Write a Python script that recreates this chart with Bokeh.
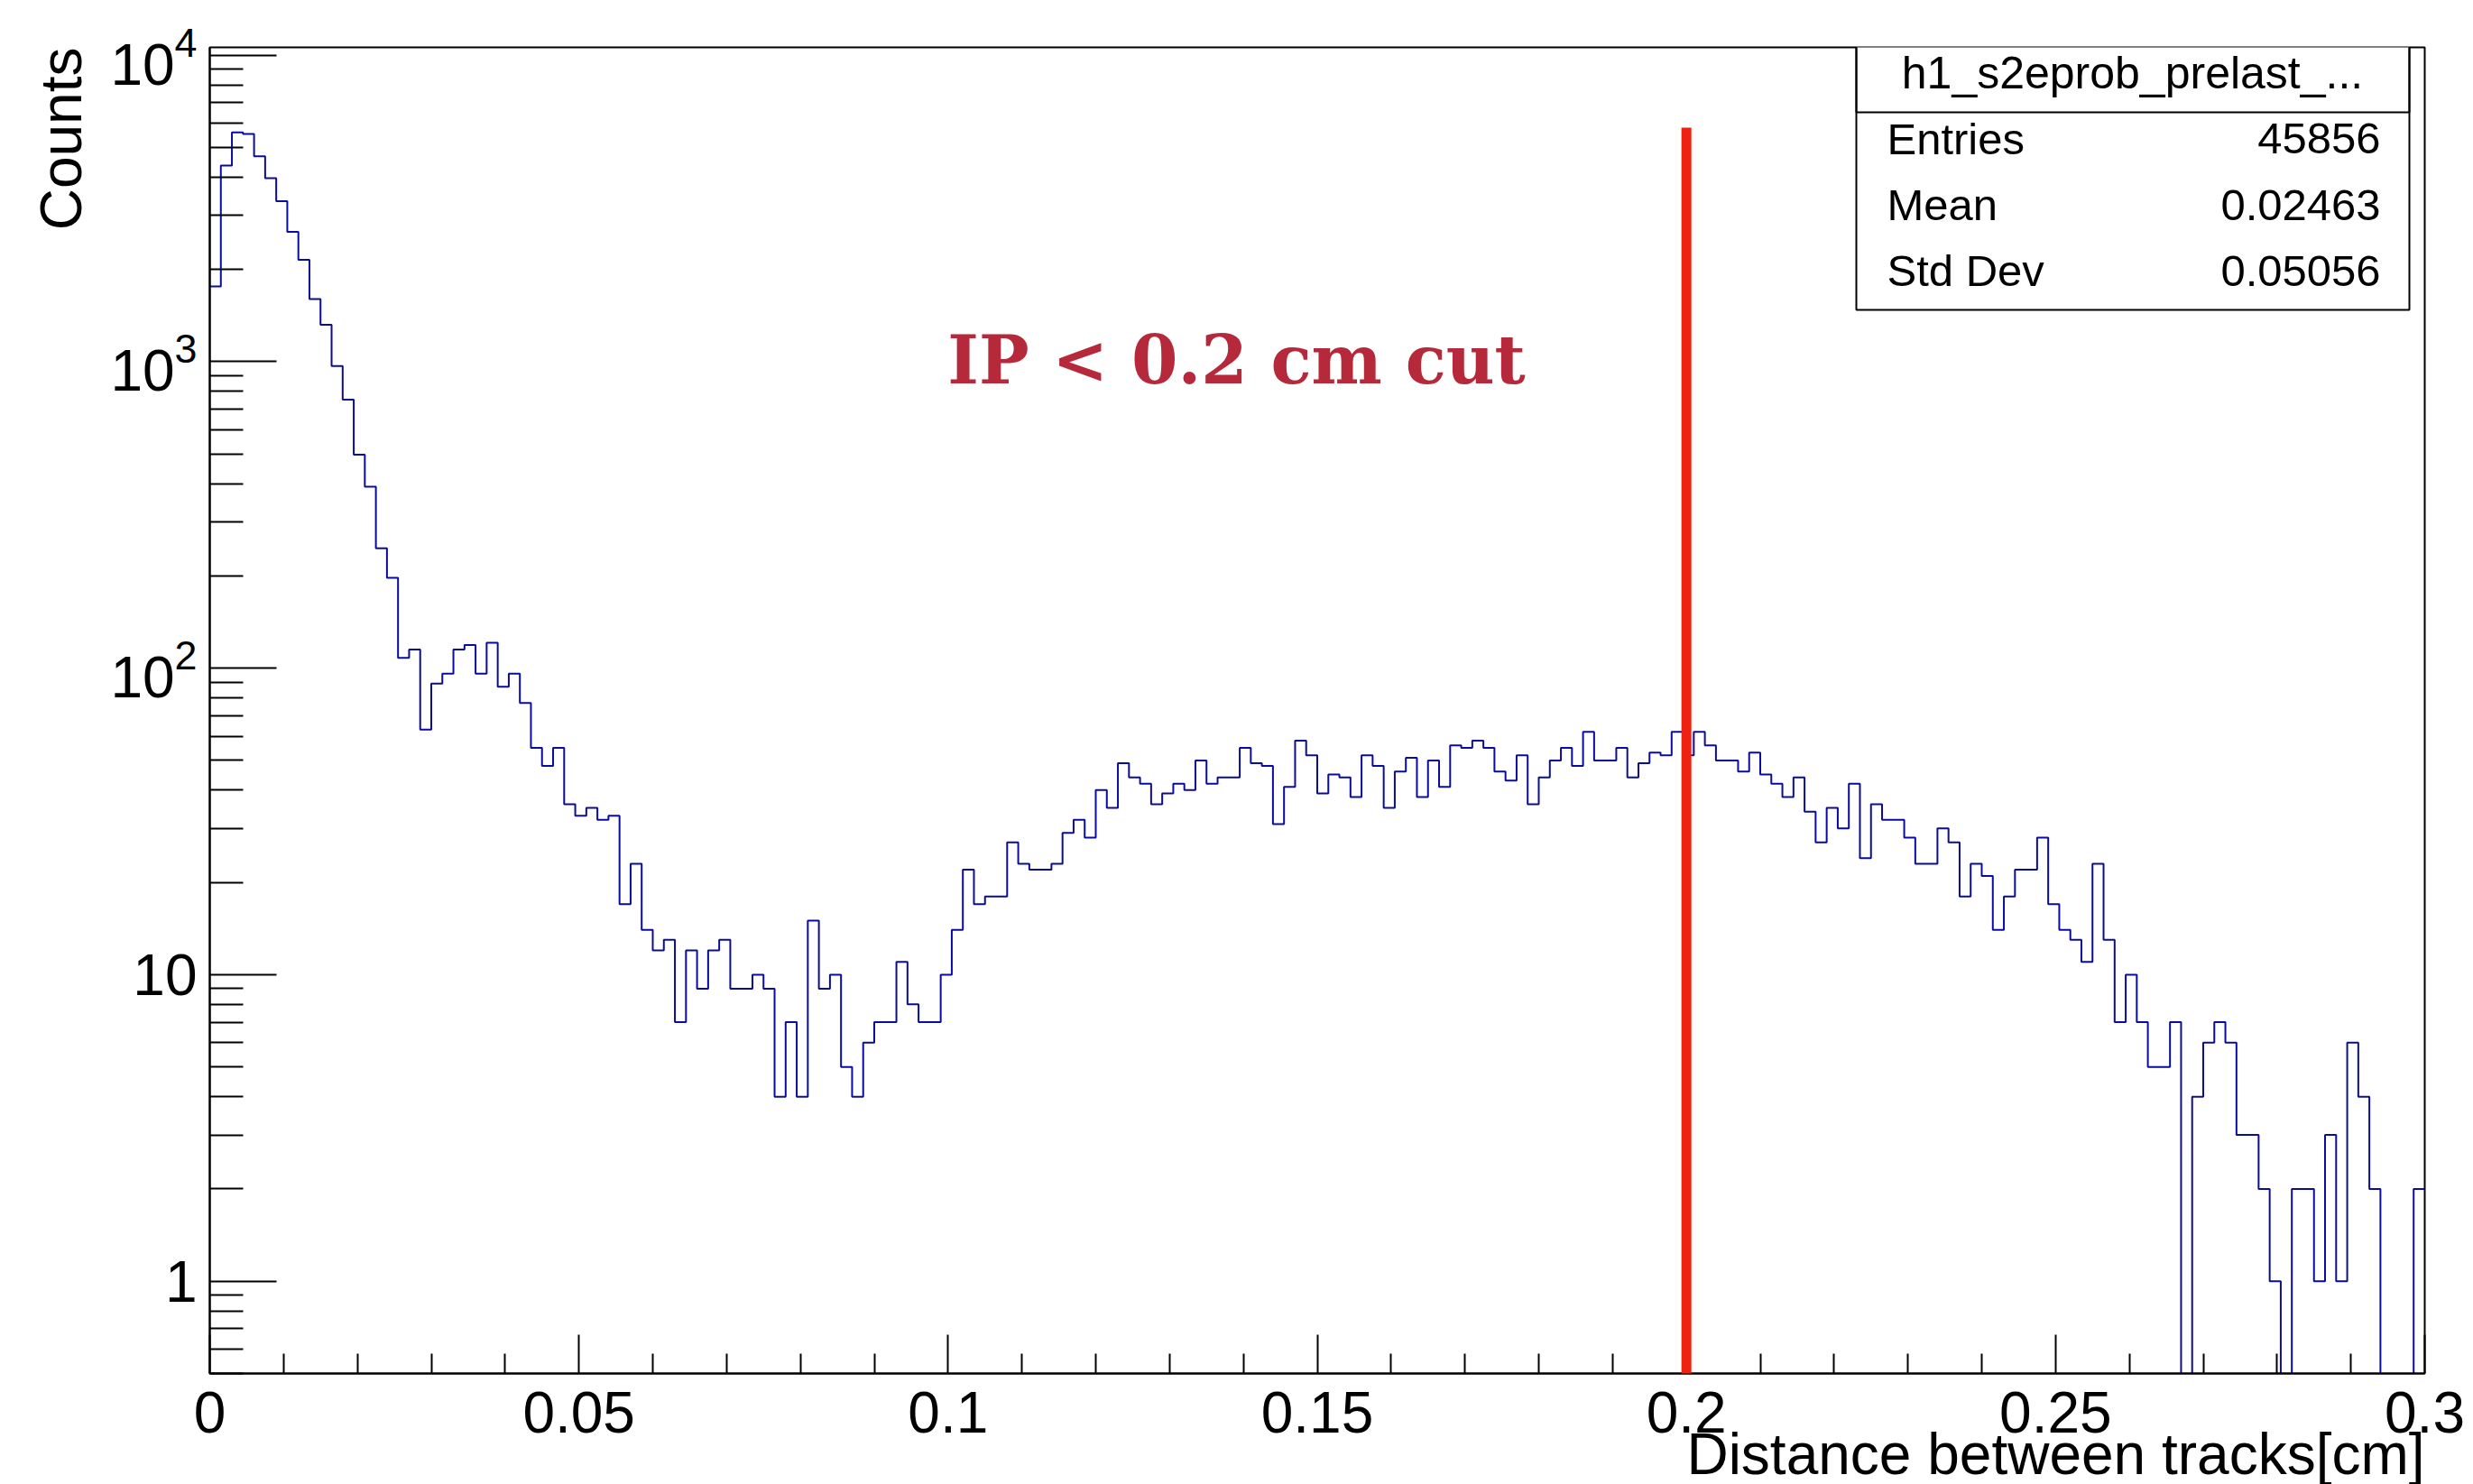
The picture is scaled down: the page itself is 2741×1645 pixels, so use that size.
import math

import numpy as np
from bokeh.embed import file_html
from bokeh.models import (Arrow, BoxAnnotation, CustomJSTickFormatter,
                          FixedTicker, Label, LogTickFormatter, Range1d, Title)
from bokeh.plotting import figure
from bokeh.resources import INLINE

# ---- histogram contents: 200 bins of 0.0015 cm between 0 and 0.3 cm ----
counts = [
    1760, 4360, 5600, 5530, 4680, 3970, 3340, 2650, 2150, 1600,
    1320, 967, 752, 497, 391, 246, 197, 108, 115, 63,
    89, 96, 115, 119, 96, 121, 87, 96, 77, 55,
    48, 55, 36, 33, 35, 32, 33, 17, 23, 14,
    12, 13, 7, 12, 9, 12, 13, 9, 9, 10,
    9, 4, 7, 4, 15, 9, 10, 5, 4, 6,
    7, 7, 11, 8, 7, 7, 10, 14, 22, 17,
    18, 18, 27, 23, 22, 22, 23, 29, 32, 28,
    40, 35, 49, 44, 42, 36, 39, 42, 40, 50,
    42, 44, 44, 55, 49, 48, 31, 41, 58, 52,
    39, 45, 44, 38, 52, 48, 35, 46, 51, 38,
    50, 41, 56, 55, 58, 55, 46, 43, 52, 36,
    44, 50, 55, 48, 62, 50, 50, 55, 44, 49,
    53, 52, 62, 52, 62, 56, 50, 50, 46, 53,
    45, 42, 38, 44, 34, 27, 35, 30, 42, 24,
    36, 32, 32, 28, 23, 23, 30, 27, 18, 23,
    21, 14, 18, 22, 22, 28, 17, 14, 13, 11,
    23, 13, 7, 10, 7, 5, 5, 7, 0, 4,
    6, 7, 6, 3, 3, 2, 1, 0, 2, 2,
    1, 3, 1, 6, 4, 2, 0, 0, 0, 2,
]
x_min, x_max = 0.0, 0.3
y_min, y_max = 0.5, 10600.0

x_ticks = [0.0, 0.05, 0.1, 0.15, 0.2, 0.25, 0.3]
x_tick_labels = ["0", "0.05", "0.1", "0.15", "0.2", "0.25", "0.3"]
x_minor_ticks = [i / 100 for i in range(31) if i % 5]

y_ticks = [1, 10, 100, 1000, 10000]
y_minor_ticks = [m / 10 for m in range(5, 10)] + [
    m * 10 ** e for e in range(0, 4) for m in range(2, 10)
]

x_title = "Distance between tracks[cm]"
y_title = "Counts"

stats_title = "h1_s2eprob_prelast_..."
stat_names = ["Entries", "Mean", "Std Dev"]
stat_values = ["45856", "0.02463", "0.05056"]

cut_value = 0.2
cut_top = 5800
cut_text = "IP < 0.2 cm cut"

# ---- canvas geometry (pixels) ----
W, H = 2741, 1645
FL, FR, FT, FB = 232, 2687, 52, 1522
SANS = "Liberation Sans"
BASELINE_SHIFT = 0.38  # lift of an alphabetic-anchored label, in em


def px_x(px):
    return x_min + (px - FL) / (FR - FL) * (x_max - x_min)


def px_y(py):
    lo, hi = math.log10(y_min), math.log10(y_max)
    return 10 ** (lo + (FB - py) / (FB - FT) * (hi - lo))


def text_label(px, py, text, size, align, **kw):
    """Label whose text baseline sits at pixel row py."""
    return Label(
        x=px_x(px), y=px_y(py), y_offset=BASELINE_SHIFT * size, text=text,
        text_align=align, text_baseline="alphabetic",
        text_font_size=f"{size}px", **kw,
    )


p = figure(
    width=W, height=H,
    x_range=Range1d(x_min, x_max), y_range=Range1d(y_min, y_max),
    y_axis_type="log",
    output_backend="svg", toolbar_location=None,
    min_border_left=FL, min_border_right=W - FR,
    min_border_top=FT, min_border_bottom=H - FB,
)
p.background_fill_color = "white"
p.border_fill_color = "white"
p.grid.visible = False
p.outline_line_color = "black"
p.outline_line_width = 2

xax = p.xaxis[0]
yax = p.yaxis[0]

# axes in the ROOT style: ticks pointing into the frame
for ax in (xax, yax):
    ax.axis_line_color = "black"
    ax.axis_line_width = 2
    ax.major_tick_line_color = "black"
    ax.major_tick_line_width = 2
    ax.minor_tick_line_color = "black"
    ax.minor_tick_line_width = 2
    ax.major_tick_out = 0
    ax.minor_tick_out = 0
    ax.major_label_text_font = SANS
    ax.major_label_text_font_size = "64px"
    ax.major_label_text_color = "black"

xax.ticker = FixedTicker(ticks=x_ticks, minor_ticks=x_minor_ticks)
xax.formatter = CustomJSTickFormatter(
    args=dict(vals=x_ticks, labs=x_tick_labels),
    code="""
    for (let i = 0; i < vals.length; i++) {
        if (Math.abs(vals[i] - tick) < 1e-9) { return labs[i] }
    }
    return ''
    """,
)
xax.major_tick_in = 43
xax.minor_tick_in = 22
xax.major_label_standoff = 20

yax.ticker = FixedTicker(ticks=y_ticks, minor_ticks=y_minor_ticks)
yax.formatter = LogTickFormatter(min_exponent=2)
yax.major_tick_in = 74
yax.minor_tick_in = 37
yax.major_label_standoff = 14

# axis titles at the far end of each axis
p.add_layout(Title(
    text=x_title, align="right", standoff=-34,
    text_font=SANS, text_font_size="64px",
    text_font_style="normal", text_color="black",
), "below")
p.add_layout(Title(
    text=y_title, align="right", standoff=31,
    text_font=SANS, text_font_size="64px",
    text_font_style="normal", text_color="black",
), "left")

# ---- histogram outline ----
edges = np.linspace(x_min, x_max, len(counts) + 1)
levels = np.append(np.array(counts, dtype=float), float(counts[-1]))
levels[levels <= 0] = y_min * 0.4  # empty bins drop below the frame
p.step(edges, levels, mode="after", line_color="#0c0c9c", line_width=2)

# ---- cut line ----
p.add_layout(Arrow(
    start=None, end=None,
    x_start=cut_value, y_start=px_y(FB + 5),
    x_end=cut_value, y_end=cut_top,
    line_color="#ee2211", line_width=11,
))
p.add_layout(text_label(
    1370, 427, cut_text, 74, "center",
    text_font="DejaVu Serif", text_font_style="bold", text_color="#b5293a",
))

# ---- statistics box ----
box_l, box_r = px_x(2057), px_x(2670)
p.add_layout(BoxAnnotation(
    left=box_l, right=box_r, top=px_y(50), bottom=px_y(343),
    fill_color="white", fill_alpha=1.0,
    line_color="black", line_alpha=1.0, line_width=2,
))
p.add_layout(BoxAnnotation(
    left=box_l, right=box_r, top=px_y(50), bottom=px_y(124),
    fill_alpha=0.0, line_color="black", line_alpha=1.0, line_width=2,
))
p.add_layout(text_label(
    2363, 99, stats_title, 50, "center", text_font=SANS, text_color="black",
))
for row, (name, val) in enumerate(zip(stat_names, stat_values)):
    row_y = 172 + 73.3 * row
    p.add_layout(text_label(
        2091, row_y, name, 49, "left", text_font=SANS, text_color="black",
    ))
    p.add_layout(text_label(
        2638, row_y, val, 49, "right", text_font=SANS, text_color="black",
    ))

open("out.html", "w").write(file_html(p, INLINE))
